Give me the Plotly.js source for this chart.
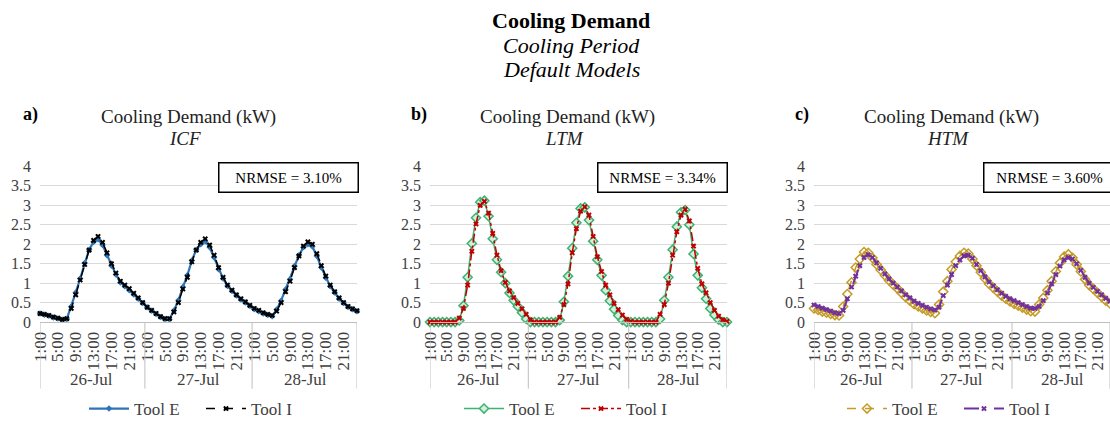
<!DOCTYPE html>
<html>
<head>
<meta charset="utf-8">
<script src="https://cdn.plot.ly/plotly-3.0.1.min.js"></script>
<style>
html,body{margin:0;padding:0;background:#fff;}
#chart{width:1110px;height:427px;}
</style>
</head>
<body>
<div id="chart"></div>
<script>
// ---------- DATA ----------
const days = ['26-Jul', '27-Jul', '28-Jul'];
const hourLabels = ['1:00', '5:00', '9:00', '13:00', '17:00', '21:00'];
const hoursPerDay = 24;

const panelLetters = ['a)', 'b)', 'c)'];
const panelModels = ['ICF', 'LTM', 'HTM'];
const nrmse = ['NRMSE = 3.10%', 'NRMSE = 3.34%', 'NRMSE = 3.60%'];
const seriesNames = ['Tool E', 'Tool I'];

// Panel a) ICF
const icfToolE = [
  0.22, 0.19, 0.16, 0.12, 0.09, 0.06, 0.08, 0.40, 0.76, 1.12, 1.52, 1.86, 2.06, 2.13, 1.98, 1.72, 1.45, 1.22, 1.02, 0.92, 0.82, 0.71, 0.60, 0.49,
  0.38, 0.29, 0.21, 0.13, 0.08, 0.07, 0.30, 0.56, 0.90, 1.20, 1.58, 1.86, 2.00, 2.08, 1.92, 1.66, 1.36, 1.12, 0.93, 0.80, 0.68, 0.58, 0.50, 0.41,
  0.33, 0.28, 0.22, 0.18, 0.15, 0.32, 0.55, 0.84, 1.10, 1.44, 1.72, 1.92, 2.00, 1.94, 1.70, 1.40, 1.14, 0.92, 0.76, 0.60, 0.49, 0.39, 0.33, 0.28
];
const icfToolI = [
  0.22, 0.20, 0.17, 0.13, 0.10, 0.07, 0.09, 0.35, 0.70, 1.08, 1.48, 1.85, 2.10, 2.20, 2.05, 1.78, 1.50, 1.26, 1.05, 0.95, 0.86, 0.74, 0.62, 0.50,
  0.38, 0.30, 0.22, 0.14, 0.09, 0.09, 0.26, 0.50, 0.85, 1.15, 1.55, 1.85, 2.05, 2.14, 1.98, 1.72, 1.40, 1.15, 0.95, 0.82, 0.70, 0.60, 0.52, 0.43,
  0.35, 0.30, 0.24, 0.20, 0.17, 0.28, 0.50, 0.78, 1.05, 1.40, 1.70, 1.95, 2.06, 2.00, 1.76, 1.45, 1.18, 0.95, 0.78, 0.62, 0.50, 0.40, 0.34, 0.29
];

// Panel b) LTM
const ltmToolE = [
  0.00, 0.00, 0.00, 0.00, 0.00, 0.00, 0.00, 0.04, 0.42, 1.15, 2.02, 2.68, 3.08, 3.12, 2.72, 2.14, 1.60, 1.28, 1.00, 0.75, 0.56, 0.40, 0.24, 0.08,
  0.00, 0.00, 0.00, 0.00, 0.00, 0.00, 0.00, 0.05, 0.52, 1.18, 1.90, 2.55, 2.92, 2.95, 2.62, 2.08, 1.60, 1.20, 0.82, 0.55, 0.33, 0.17, 0.05, 0.00,
  0.00, 0.00, 0.00, 0.00, 0.00, 0.00, 0.00, 0.08, 0.56, 1.15, 1.86, 2.45, 2.82, 2.88, 2.50, 1.75, 1.20, 0.88, 0.60, 0.35, 0.18, 0.06, 0.00, 0.00
];
const ltmToolI = [
  0.00, 0.00, 0.00, 0.00, 0.00, 0.00, 0.00, 0.10, 0.35, 0.95, 1.82, 2.52, 3.00, 3.10, 2.80, 2.28, 1.72, 1.32, 1.02, 0.80, 0.63, 0.48, 0.34, 0.20,
  0.06, 0.00, 0.00, 0.00, 0.00, 0.00, 0.00, 0.12, 0.45, 0.98, 1.78, 2.40, 2.85, 2.96, 2.75, 2.20, 1.68, 1.30, 0.95, 0.70, 0.48, 0.32, 0.18, 0.07,
  0.02, 0.00, 0.00, 0.00, 0.00, 0.00, 0.00, 0.20, 0.45, 1.00, 1.72, 2.32, 2.75, 2.90, 2.60, 1.95, 1.38, 0.98, 0.75, 0.50, 0.30, 0.15, 0.06, 0.02
];

// Panel c) HTM
const htmToolE = [
  0.35, 0.31, 0.27, 0.24, 0.21, 0.18, 0.17, 0.40, 0.72, 1.02, 1.40, 1.62, 1.80, 1.78, 1.65, 1.48, 1.34, 1.20, 1.07, 0.96, 0.86, 0.75, 0.64, 0.55,
  0.46, 0.40, 0.35, 0.30, 0.26, 0.23, 0.45, 0.78, 1.05, 1.35, 1.55, 1.70, 1.78, 1.76, 1.62, 1.45, 1.28, 1.12, 0.98, 0.88, 0.78, 0.68, 0.60, 0.53,
  0.47, 0.42, 0.37, 0.32, 0.28, 0.27, 0.45, 0.62, 0.82, 1.05, 1.30, 1.52, 1.68, 1.74, 1.65, 1.48, 1.30, 1.10, 0.95, 0.85, 0.75, 0.65, 0.55, 0.48
];
const htmToolI = [
  0.44, 0.40, 0.36, 0.32, 0.28, 0.24, 0.22, 0.30, 0.60, 0.90, 1.18, 1.45, 1.66, 1.73, 1.66, 1.52, 1.38, 1.24, 1.11, 1.00, 0.90, 0.80, 0.70, 0.62,
  0.54, 0.48, 0.43, 0.38, 0.34, 0.31, 0.38, 0.68, 0.95, 1.22, 1.45, 1.60, 1.70, 1.72, 1.64, 1.48, 1.32, 1.16, 1.03, 0.93, 0.83, 0.74, 0.66, 0.60,
  0.55, 0.50, 0.45, 0.40, 0.36, 0.35, 0.40, 0.55, 0.75, 0.98, 1.22, 1.44, 1.60, 1.66, 1.62, 1.50, 1.33, 1.15, 1.00, 0.89, 0.79, 0.70, 0.61, 0.54
];

const yTickVals = [0, 0.5, 1, 1.5, 2, 2.5, 3, 3.5, 4];

// ---------- BUILD ----------
const W = 1110, H = 427;
const FONT = '"Liberation Serif", "Times New Roman", Times, serif';
const px = v => v / W;
const py = v => 1 - v / H;

const nPts = days.length * hoursPerDay;
const xIdx = Array.from({length: nPts}, (_, i) => i);

const tickVals = [], tickText = [];
days.forEach((d, di) => {
  hourLabels.forEach(h => {
    tickVals.push(di * hoursPerDay + parseInt(h, 10) - 1);
    tickText.push(h);
  });
});

const panels = [
  {E: icfToolE, I: icfToolI, dom: [40, 357], titleX: 188, letterX: 30, nrX: 288, nrW: 136, legX: 84,
   eStyle: {line: {color: '#2e75b6', width: 2.2}, marker: {symbol: 'diamond', size: 5, color: '#2e75b6'}},
   iStyle: {line: {color: '#000000', width: 1.5, dash: 'dash'}, marker: {symbol: 'x', size: 5, color: '#000000'}}},
  {E: ltmToolE, I: ltmToolI, dom: [430, 727], titleX: 567, letterX: 419, nrX: 662, nrW: 126, legX: 459,
   eStyle: {line: {color: '#3cb371', width: 1.5}, marker: {symbol: 'diamond', size: 7, color: '#d4f0dc', line: {color: '#3cb371', width: 1.5}}},
   iStyle: {line: {color: '#c00000', width: 1.5, dash: 'dashdot'}, marker: {symbol: 'x', size: 5, color: '#c00000'}}},
  {E: htmToolE, I: htmToolI, dom: [814, 1110], titleX: 951, letterX: 802, nrX: 1049, nrW: 128, legX: 842,
   eStyle: {line: {color: '#c59b24', width: 1.5, dash: 'dash'}, marker: {symbol: 'diamond-open', size: 7, color: '#c59b24', line: {width: 1.5}}},
   iStyle: {line: {color: '#7030a0', width: 2, dash: 'longdash'}, marker: {symbol: 'x', size: 5, color: '#7030a0'}}}
];

const traces = [];
const layout = {
  width: W, height: H,
  margin: {l: 0, r: 0, t: 0, b: 0},
  paper_bgcolor: '#ffffff', plot_bgcolor: '#ffffff',
  font: {family: FONT, size: 16, color: '#404040'},
  showlegend: true,
  annotations: [], shapes: []
};

const yDom = [py(329), py(170)];

panels.forEach((p, k) => {
  const sfx = k === 0 ? '' : String(k + 1);
  const xa = 'x' + sfx, ya = 'y' + sfx;
  const leg = 'legend' + sfx;
  traces.push(Object.assign({
    type: 'scatter', mode: 'lines+markers', x: xIdx, y: p.E, name: seriesNames[0],
    xaxis: xa, yaxis: ya, legend: leg, cliponaxis: false
  }, p.eStyle));
  traces.push(Object.assign({
    type: 'scatter', mode: 'lines+markers', x: xIdx, y: p.I, name: seriesNames[1],
    xaxis: xa, yaxis: ya, legend: leg, cliponaxis: false
  }, p.iStyle));

  layout['xaxis' + sfx] = {
    domain: [px(p.dom[0]), Math.min(1, px(p.dom[1]))], anchor: ya,
    range: [0, nPts - 1], tickmode: 'array', tickvals: tickVals, ticktext: tickText,
    tickangle: -90, showgrid: false, zeroline: false,
    showline: true, linecolor: '#bfbfbf', linewidth: 1,
    ticks: '', ticklabelstandoff: 2,
    tickfont: {family: FONT, size: 17, color: '#404040'}, fixedrange: true
  };
  layout['yaxis' + sfx] = {
    domain: yDom, anchor: xa, range: [0, 4],
    tickmode: 'array', tickvals: yTickVals, ticktext: yTickVals.map(String),
    showgrid: true, gridcolor: '#d9d9d9', gridwidth: 1, zeroline: false, showline: false,
    ticks: '', ticklabelstandoff: 8,
    tickfont: {family: FONT, size: 16, color: '#404040'}, fixedrange: true
  };
  layout[leg] = {
    orientation: 'h', x: px(p.legX), y: py(418), xanchor: 'left', yanchor: 'middle',
    font: {family: FONT, size: 17, color: '#404040'}, bgcolor: 'rgba(0,0,0,0)',
    itemwidth: 40, entrywidth: 62, tracegroupgap: 0
  };

  // day separators and labels
  const seps = [0];
  days.forEach((d, di) => { if (di > 0) seps.push(di * hoursPerDay - 0.5); });
  seps.push(nPts - 1);
  seps.forEach(s => layout.shapes.push({
    type: 'line', xref: xa, yref: 'paper', x0: s, x1: s, y0: py(329), y1: py(397),
    line: {color: '#bfbfbf', width: 1}
  }));
  days.forEach((d, di) => layout.annotations.push({
    text: d, xref: xa, yref: 'paper', x: di * hoursPerDay + (hoursPerDay - 1) / 2, y: py(388),
    showarrow: false, xanchor: 'center', yanchor: 'middle',
    font: {family: FONT, size: 17, color: '#404040'}
  }));

  // panel titles
  layout.annotations.push({
    text: 'Cooling Demand (kW)', xref: 'paper', yref: 'paper', x: px(p.titleX), y: py(120),
    showarrow: false, xanchor: 'center', yanchor: 'middle',
    font: {family: FONT, size: 19, color: '#222222'}
  });
  layout.annotations.push({
    text: '<i>' + panelModels[k] + '</i>', xref: 'paper', yref: 'paper', x: px(p.titleX - 3), y: py(141),
    showarrow: false, xanchor: 'center', yanchor: 'middle',
    font: {family: FONT, size: 19, color: '#222222'}
  });
  layout.annotations.push({
    text: '<b>' + panelLetters[k] + '</b>', xref: 'paper', yref: 'paper', x: px(p.letterX), y: py(117),
    showarrow: false, xanchor: 'center', yanchor: 'middle',
    font: {family: FONT, size: 18, color: '#000000'}
  });
  // NRMSE box
  layout.annotations.push({
    text: nrmse[k], xref: 'paper', yref: 'paper', x: px(p.nrX), y: py(181),
    showarrow: false, xanchor: 'center', yanchor: 'middle',
    width: p.nrW, height: 26, borderwidth: 1.5, bordercolor: '#000000', borderpad: 1,
    bgcolor: '#ffffff', font: {family: FONT, size: 15, color: '#000000'}
  });
});

// main title
[['<b>Cooling Demand</b>', 21], ['<i>Cooling Period</i>', 46], ['<i>Default Models</i>', 71]].forEach(t => {
  layout.annotations.push({
    text: t[0], xref: 'paper', yref: 'paper', x: px(571), y: py(t[1]),
    showarrow: false, xanchor: 'center', yanchor: 'middle',
    font: {family: FONT, size: 22, color: '#000000'}
  });
});

Plotly.newPlot('chart', traces, layout, {displayModeBar: false, staticPlot: true});
</script>
</body>
</html>
